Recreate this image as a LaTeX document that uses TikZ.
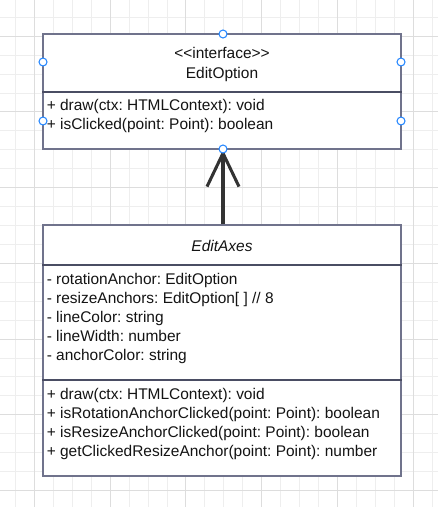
\documentclass[tikz,border=0pt]{standalone}
\usepackage{fontspec}
\setmainfont{Liberation Sans}
\usetikzlibrary{arrows.meta,positioning}
\frenchspacing

\definecolor{umlframe}{RGB}{112,115,140}
\definecolor{umlsep}{RGB}{74,77,99}
\definecolor{gridminor}{RGB}{238,238,238}
\definecolor{gridmajor}{RGB}{221,221,221}
\definecolor{handleblue}{RGB}{41,137,255}
\definecolor{arrowgray}{RGB}{51,51,51}
\definecolor{txtgray}{RGB}{20,20,20}

\begin{document}
\begin{tikzpicture}[x=0.75pt, y=-0.75pt,
  umlbox/.style = {draw = umlframe, fill = white, line width = 1.1pt, shape = rectangle, minimum width = 268.5pt, inner sep = 0pt},
  sepline/.style = {draw = umlsep, line width = 1.5pt},
  member/.style = {anchor = base west, inner sep = 0pt, font = \fontsize{11.6}{14}\selectfont, text = txtgray},
  umltitle/.style = {anchor = base, inner sep = 0pt, font = \fontsize{11.6}{14}\selectfont, text = txtgray},
  handle/.style = {shape = circle, draw = handleblue, fill = white, line width = 0.8pt, minimum size = 6pt, inner sep = 0pt},
  realize/.style = {draw = arrowgray, line width = 2.3pt, -{Straight Barb[length = 25pt, width = 24pt]}}]

\useasboundingbox (0,0) rectangle (438,507);
\fill[white] (0,0) rectangle (438,507);
% grid
\foreach \k in {0,...,22}
  \draw[gridminor, line width = 0.75pt] ({15.6+18.93*\k},0) -- ({15.6+18.93*\k},507);
\foreach \k in {0,...,25}
  \draw[gridminor, line width = 0.75pt] (0,{17.3+18.93*\k}) -- (438,{17.3+18.93*\k});
\foreach \k in {1,5,...,21}
  \draw[gridmajor, line width = 0.75pt] ({15.6+18.93*\k},0) -- ({15.6+18.93*\k},507);
\foreach \k in {1,5,...,25}
  \draw[gridmajor, line width = 0.75pt] (0,{17.3+18.93*\k}) -- (438,{17.3+18.93*\k});

% interface
\node[umlbox, minimum height = 86.25pt] (opt) at (222,91.5) {};
\draw[sepline] (opt.west |- 0,91.5) -- (opt.east |- 0,91.5);
\node[umltitle] (optstereo) at (222,58) {<\kern0pt<interface>\kern0pt>};
\node[umltitle] (optname) at (222,78.3) {EditOption};
\node[member] (optm1) at (46.5,110.8) {+ draw(ctx: HTMLContext): void};
\node[member] (optm2) at (46.5,129.8) {+ isClicked(point: Point): boolean};

% class
\node[umlbox, minimum height = 188.25pt] (axes) at (222,350.5) {};
\draw[sepline] (axes.west |- 0,264.5) -- (axes.east |- 0,264.5);
\draw[sepline] (axes.west |- 0,380) -- (axes.east |- 0,380);
\node[umltitle, font = \fontsize{11.6}{14}\selectfont\itshape] (axesname) at (222,251.7) {EditAxes};
\node[member] (axa1) at (46.5,284.5) {- rotationAnchor: EditOption};
\node[member] (axa2) at (46.5,303.5) {- resizeAnchors: EditOption[ ] // 8};
\node[member] (axa3) at (46.5,322.5) {- lineColor: string};
\node[member] (axa4) at (46.5,341.5) {- lineWidth: number};
\node[member] (axa5) at (46.5,360.5) {- anchorColor: string};
\node[member] (axm1) at (46.5,399.5) {+ draw(ctx: HTMLContext): void};
\node[member] (axm2) at (46.5,418.5) {+ isRotationAnchorClicked(point: Point): boolean};
\node[member] (axm3) at (46.5,437.5) {+ isResizeAnchorClicked(point: Point): boolean};
\node[member] (axm4) at (46.5,456.5) {+ getClickedResizeAnchor(point: Point): number};

\draw[realize] ([xshift = 0.75pt]axes.north) -- ([xshift = 0.75pt]opt.south);

% connection handles
\node[handle] (h1) at (223,34) {};
\node[handle] (h2) at (43,62) {};
\node[handle] (h3) at (401,62) {};
\node[handle] (h4) at (43,121) {};
\node[handle] (h5) at (401,121) {};
\node[handle] (h6) at (223,149) {};
\end{tikzpicture}
\end{document}
